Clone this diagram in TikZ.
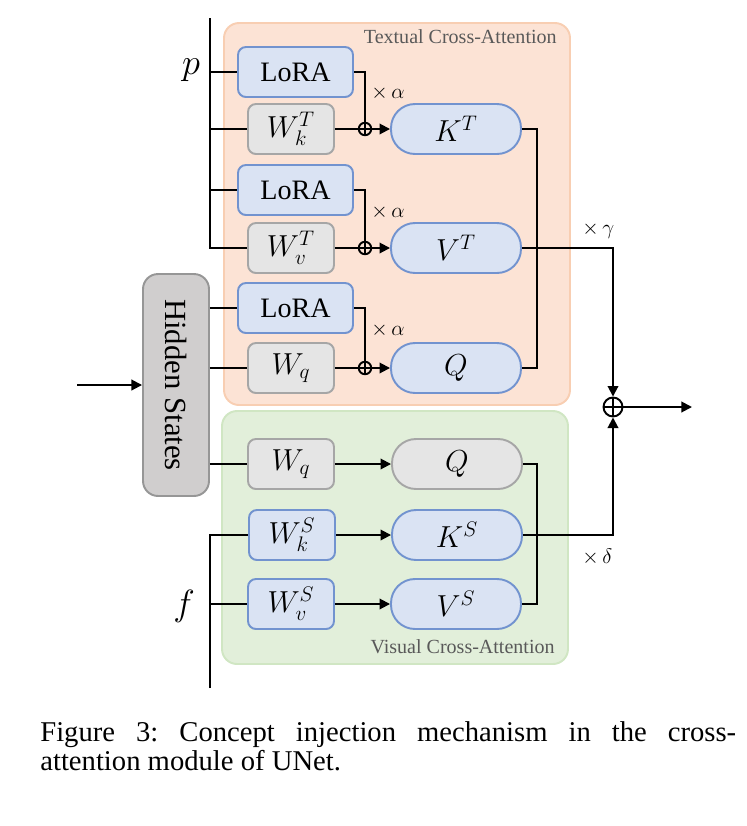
\documentclass[tikz,border=0pt]{standalone}
\usepackage{fontspec}
\usepackage{graphicx}
\setmainfont{Liberation Serif}
\usetikzlibrary{arrows.meta}
\definecolor{tcaFill}{RGB}{252,227,213}
\definecolor{tcaLine}{RGB}{248,206,178}
\definecolor{vcaFill}{RGB}{226,239,218}
\definecolor{vcaLine}{RGB}{208,230,195}
\definecolor{blueFill}{RGB}{218,227,243}
\definecolor{blueLine}{RGB}{114,147,207}
\definecolor{grayFill}{RGB}{229,229,229}
\definecolor{grayLine}{RGB}{166,166,166}
\definecolor{hsFill}{RGB}{208,206,206}
\definecolor{hsLine}{RGB}{150,150,150}
\definecolor{titleGray}{RGB}{89,89,89}
\begin{document}
\begin{tikzpicture}[x=0.02cm,y=-0.02cm,
	conn/.style={line width=1.1pt},
	arr/.style={line width=1.1pt,-{Triangle[length=6pt,width=6pt]}},
	box/.style={line width=1.1pt,rounded corners=4.5pt,inner sep=0pt,minimum height=1cm},
	lora/.style={box,draw=blueLine,fill=blueFill,minimum width=2.3cm,font=\fontsize{16}{19}\selectfont},
	wblue/.style={box,draw=blueLine,fill=blueFill,minimum width=1.72cm,font=\fontsize{17}{20}\selectfont},
	wgray/.style={box,draw=grayLine,fill=grayFill,minimum width=1.72cm,font=\fontsize{17}{20}\selectfont},
	pill/.style={box,draw=blueLine,fill=blueFill,minimum width=2.6cm,rounded corners=0.48cm,font=\fontsize{17}{20}\selectfont},
	pillgray/.style={pill,draw=grayLine,fill=grayFill},
	add/.style={circle,draw,line width=1.1pt,inner sep=0pt,minimum size=0.25cm,
		path picture={\draw[line width=0.9pt] (path picture bounding box.north) -- (path picture bounding box.south)
			(path picture bounding box.west) -- (path picture bounding box.east);}},
	lbl/.style={font=\fontsize{12}{14}\selectfont,inner sep=0pt},
	title/.style={text=titleGray,font=\fontsize{11.4}{14}\selectfont,inner sep=0pt}]
	\useasboundingbox (0,0) rectangle (747,826);

	\draw[tcaLine,fill=tcaFill,line width=1.1pt,rounded corners=0.3cm] (224,23) rectangle (570,405);
	\draw[vcaLine,fill=vcaFill,line width=1.1pt,rounded corners=0.3cm] (222,411) rectangle (568,664);
	\node[title,anchor=east] (tcaTitle) at (557,37) {Textual Cross-Attention};
	\node[title,anchor=east] (vcaTitle) at (555,647) {Visual Cross-Attention};

	\node[lora] (lora1) at (295.5,72) {LoRA};
	\node[wgray] (wkt) at (291,129) {$W_k^T$};
	\node[add] (add1) at (365,129) {};
	\node[pill] (kt) at (456,129) {$K^T$};
	\node[lora] (lora2) at (295.5,190) {LoRA};
	\node[wgray] (wvt) at (291,248) {$W_v^T$};
	\node[add] (add2) at (365,248) {};
	\node[pill] (vt) at (456,248) {$V^T$};
	\node[lora] (lora3) at (295.5,308) {LoRA};
	\node[wgray] (wqt) at (291,368) {$W_q$};
	\node[add] (add3) at (365,368) {};
	\node[pill] (qt) at (456,368) {$Q$};

	\node[wgray] (wqs) at (291,464) {$W_q$};
	\node[pillgray] (qs) at (457,464) {$Q$};
	\node[wblue] (wks) at (292,535) {$W_k^S$};
	\node[pill] (ks) at (457,535) {$K^S$};
	\node[wblue] (wvs) at (291,604) {$W_v^S$};
	\node[pill] (vs) at (456,604) {$V^S$};

	\node[draw=hsLine,fill=hsFill,line width=1.1pt,rounded corners=0.3cm,minimum width=1.32cm,minimum height=4.44cm,inner sep=0pt,
		font=\fontsize{17.5}{20}\selectfont] (hs) at (176,385) {\rotatebox{-90}{Hidden States}};
	\node[add,minimum size=0.38cm] (sum) at (613,407) {};

	\node[font=\fontsize{21}{24}\selectfont] (p) at (191,70) {$p$};
	\node[font=\fontsize{21}{24}\selectfont] (f) at (184,606) {$f$};
	\coordinate (ptop) at (210,18);
	\coordinate (fbot) at (210,688);
	\coordinate (tcol) at (537,0);
	\coordinate (in) at (77,385);
	\coordinate (out) at (692,407);

	\draw[conn] (ptop) |- (wvt.west);
	\draw[conn] (ptop |- lora1.west) -- (lora1.west);
	\draw[conn] (ptop |- wkt.west) -- (wkt.west);
	\draw[conn] (ptop |- lora2.west) -- (lora2.west);
	\draw[conn] (fbot) |- (wks.west);
	\draw[conn] (fbot |- wvs.west) -- (wvs.west);
	\draw[arr] (in) -- (hs.west);
	\draw[conn] (hs.east |- lora3.west) -- (lora3.west);
	\draw[conn] (hs.east |- wqt.west) -- (wqt.west);
	\draw[conn] (hs.east |- wqs.west) -- (wqs.west);

	\draw[conn] (lora1.east) -| (add1.north);
	\draw[conn] (wkt.east) -- (add1.west);
	\draw[arr] (add1.east) -- (kt.west);
	\draw[conn] (lora2.east) -| (add2.north);
	\draw[conn] (wvt.east) -- (add2.west);
	\draw[arr] (add2.east) -- (vt.west);
	\draw[conn] (lora3.east) -| (add3.north);
	\draw[conn] (wqt.east) -- (add3.west);
	\draw[arr] (add3.east) -- (qt.west);
	\node[lbl,anchor=west] (alpha1) at (371,93) {$\times\,\alpha$};
	\node[lbl,anchor=west] (alpha2) at (371,212) {$\times\,\alpha$};
	\node[lbl,anchor=west] (alpha3) at (371,330) {$\times\,\alpha$};

	\draw[arr] (wqs.east) -- (qs.west);
	\draw[arr] (wks.east) -- (ks.west);
	\draw[arr] (wvs.east) -- (vs.west);

	\draw[conn] (kt.east) -| (tcol |- qt.east) -- (qt.east);
	\draw[conn] (qs.east) -| (tcol |- vs.east) -- (vs.east);
	\draw[arr] (vt.east) -| (sum.north);
	\draw[arr] (ks.east) -| (sum.south);
	\draw[arr] (sum.east) -- (out);
	\node[lbl,anchor=west] (gamma) at (582,230) {$\times\,\gamma$};
	\node[lbl,anchor=west] (delta) at (582,557) {$\times\,\delta$};

	\node[anchor=north west,text width=13.92cm,align=justify,inner sep=0pt,font=\fontsize{16.3}{16.5}\selectfont\frenchspacing] (caption) at (40,721)
		{Figure 3: Concept injection mechanism in the cross-\linebreak attention module of UNet.};
\end{tikzpicture}
\end{document}
